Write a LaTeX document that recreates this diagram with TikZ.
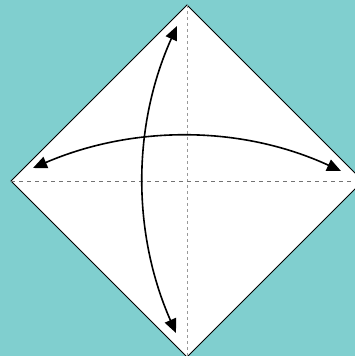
\documentclass[tikz,border=0pt]{standalone}
\usetikzlibrary{arrows.meta}
\definecolor{bgteal}{HTML}{80CFCF}
\tikzset{
  paper/.style={fill=white,draw=black,line width=0.8pt,line join=miter},
  vfold/.style={draw=black!40,line width=1pt,dash pattern=on 3pt off 3pt},
  hfold/.style={draw=black!55,line width=0.7pt,dash pattern=on 4pt off 4pt},
  foldarrow/.style={line width=1.6pt,{Triangle[length=14pt,width=12pt]}-{Triangle[length=14pt,width=12pt]}}
}
\begin{document}
\begin{tikzpicture}[x=1pt,y=-1pt]
  \fill[bgteal] (0,0) rectangle (355,356);
  \useasboundingbox (0,0) rectangle (355,356);
  \coordinate (T) at (187,5);
  \coordinate (L) at (11,181);
  \coordinate (R) at (363,181);
  \coordinate (B) at (187,357);
  \coordinate (C) at (187,181);
  \path[paper] (T) -- (R) -- (B) -- (L) -- cycle;
  \draw[vfold] (T) -- (B);
  \draw[hfold] (L) -- (R);
  \coordinate (hl) at (33,168);
  \coordinate (hr) at (341,171);
  \coordinate (vt) at (177,26);
  \coordinate (vb) at (176,333);
  \draw[foldarrow] (hl) .. controls (133,125) and (241,125) .. (hr);
  \draw[foldarrow] (vt) .. controls (132,126) and (132,233) .. (vb);
\end{tikzpicture}
\end{document}
